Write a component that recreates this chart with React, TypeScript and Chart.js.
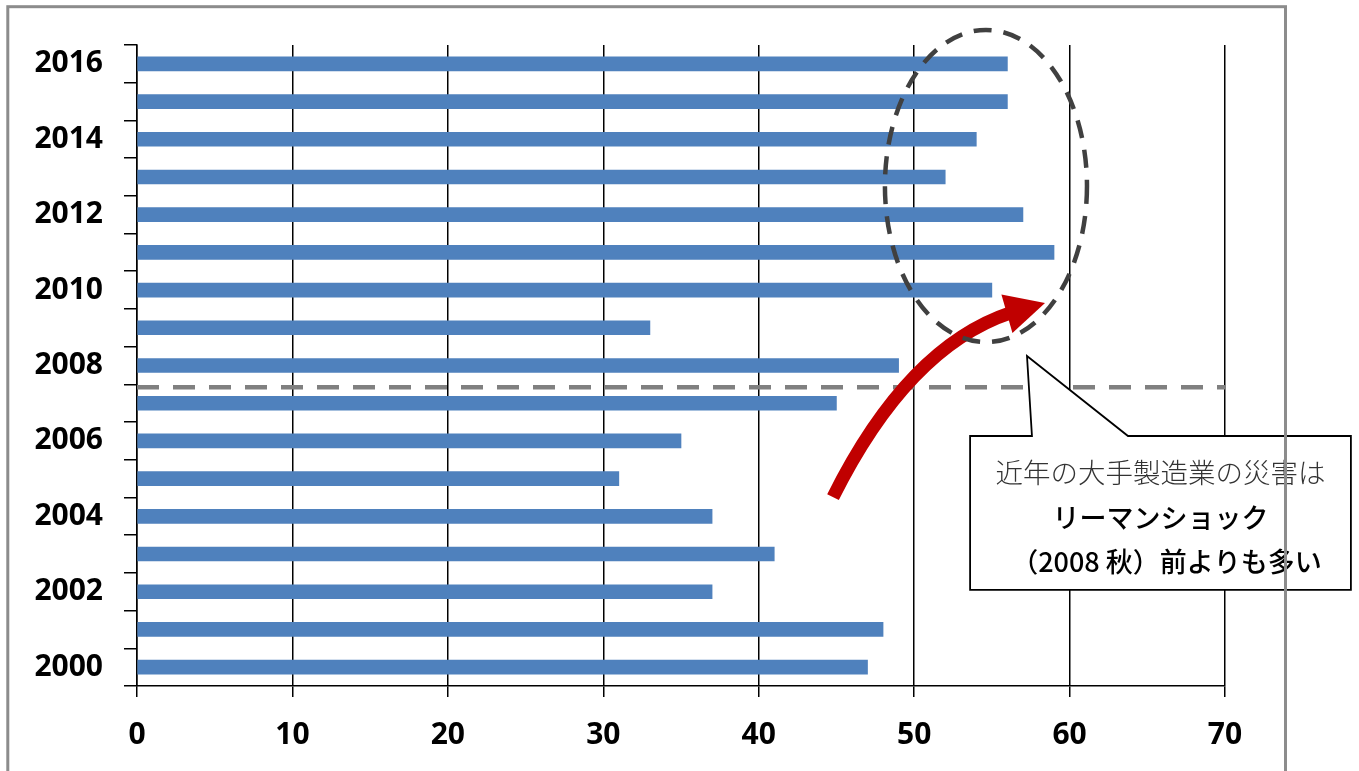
import React, { useEffect, useRef } from 'react';
import { Chart, registerables } from 'chart.js';

Chart.register(...registerables);

// ---- data ----
const years = ['2000', '2001', '2002', '2003', '2004', '2005', '2006', '2007', '2008', '2009', '2010', '2011', '2012', '2013', '2014', '2015', '2016'];
const values = [47, 48, 37, 41, 37, 31, 35, 45, 49, 33, 55, 59, 57, 52, 54, 56, 56];
const xTickValues = [0, 10, 20, 30, 40, 50, 60, 70];
const calloutLines = ['近年の大手製造業の災害は', 'リーマンショック', '（2008 秋）前よりも多い'];

// annotation anchors in data units (x value, y category index)
const separatorIndex = 7.42;
const ellipseAnchor = { x: 54.62, y: 12.76, rx: 6.5, ry: 4.14 };
const arrowAnchor = { start: [44.78, 4.51], ctrl: [49.6, 8.49], end: [55.97, 9.37], tip: [58.42, 9.66] };
const calloutAnchor = { left: 53.6, right: 78.1, top: 6.13, bottom: 2.05, tipX: 57.26, tipY: 8.25, baseL: 57.58, baseR: 63.76 };

const annotationPlugin = {
  id: 'annotations',
  beforeDraw(chart: any) {
    const ctx = chart.ctx;
    ctx.save();
    ctx.fillStyle = '#ffffff';
    ctx.fillRect(0, 0, chart.width, chart.height);
    ctx.restore();
  },
  afterDraw(chart: any) {
    const ctx: CanvasRenderingContext2D = chart.ctx;
    const xs = chart.scales.x;
    const ys = chart.scales.y;
    const px = (v: number) => xs.getPixelForValue(v);
    const py = (i: number) => ys.getPixelForValue(i);

    // separator dashed line
    ctx.save();
    ctx.strokeStyle = '#808080';
    ctx.lineWidth = 4.5;
    ctx.setLineDash([22, 14]);
    ctx.beginPath();
    ctx.moveTo(px(0), py(separatorIndex));
    ctx.lineTo(px(70), py(separatorIndex));
    ctx.stroke();
    ctx.restore();

    // red curved arrow
    const s = arrowAnchor;
    const sx = px(s.start[0]), sy = py(s.start[1]);
    const cx = px(s.ctrl[0]), cy = py(s.ctrl[1]);
    const ex = px(s.end[0]), ey = py(s.end[1]);
    const tx = px(s.tip[0]), ty = py(s.tip[1]);
    ctx.save();
    ctx.strokeStyle = '#C00000';
    ctx.fillStyle = '#C00000';
    ctx.lineWidth = 13;
    ctx.lineCap = 'butt';
    ctx.beginPath();
    ctx.moveTo(sx, sy);
    ctx.quadraticCurveTo(cx, cy, ex + (tx - ex) * 0.1, ey + (ty - ey) * 0.1);
    ctx.stroke();
    const dx = tx - ex, dy = ty - ey;
    const len = Math.hypot(dx, dy);
    const nx = -dy / len, ny = dx / len;
    const hw = 20;
    ctx.beginPath();
    ctx.moveTo(tx, ty);
    ctx.lineTo(ex + nx * hw, ey + ny * hw);
    ctx.lineTo(ex - nx * hw, ey - ny * hw);
    ctx.closePath();
    ctx.fill();
    ctx.restore();

    // dashed ellipse
    const e = ellipseAnchor;
    const ecx = px(e.x), ecy = py(e.y);
    const erx = Math.abs(px(e.x + e.rx) - ecx);
    const ery = Math.abs(py(e.y + e.ry) - ecy);
    ctx.save();
    ctx.strokeStyle = '#404040';
    ctx.lineWidth = 4.5;
    ctx.setLineDash([18, 12]);
    ctx.beginPath();
    ctx.ellipse(ecx, ecy, erx, ery, 0, 0, Math.PI * 2);
    ctx.stroke();
    ctx.restore();

    // callout
    const c = calloutAnchor;
    const L = px(c.left), R = px(c.right), T = py(c.top), B = py(c.bottom);
    ctx.save();
    ctx.beginPath();
    ctx.moveTo(L, T);
    ctx.lineTo(px(c.baseL), T);
    ctx.lineTo(px(c.tipX), py(c.tipY));
    ctx.lineTo(px(c.baseR), T);
    ctx.lineTo(R, T);
    ctx.lineTo(R, B);
    ctx.lineTo(L, B);
    ctx.closePath();
    ctx.fillStyle = '#ffffff';
    ctx.fill();
    ctx.strokeStyle = '#000000';
    ctx.lineWidth = 1.8;
    ctx.lineJoin = 'miter';
    ctx.stroke();
    ctx.textAlign = 'center';
    ctx.textBaseline = 'middle';
    const mid = (L + R) / 2;
    const h = B - T;
    ctx.font = "300 27.5px 'Noto Sans CJK JP'";
    ctx.fillStyle = '#333333';
    ctx.fillText(calloutLines[0], mid, T + h * 0.24);
    ctx.font = "500 27px 'Noto Sans CJK JP'";
    ctx.fillStyle = '#000000';
    ctx.fillText(calloutLines[1], mid, T + h * 0.53);
    ctx.fillText(calloutLines[2], mid + 6, T + h * 0.82);
    ctx.restore();

    // outer frame
    ctx.save();
    ctx.strokeStyle = '#8c8c8c';
    ctx.lineWidth = 3;
    ctx.strokeRect(7.8, 6.7, 1277.7, 820);
    ctx.restore();
  },
};

export default function App() {
  const canvasRef = useRef<HTMLCanvasElement>(null);

  useEffect(() => {
    if (!canvasRef.current) return;
    const tickFont = { family: "'Open Sans'", size: 30, weight: 'bold' as const };
    const chart = new Chart(canvasRef.current, {
      type: 'bar',
      data: {
        labels: years,
        datasets: [
          {
            data: values,
            backgroundColor: '#4F81BD',
            borderWidth: 0,
            barThickness: 14,
          },
        ],
      },
      options: {
        indexAxis: 'y',
        responsive: false,
        animation: false,
        devicePixelRatio: 1,
        layout: { padding: { left: 0, right: 134, top: 45, bottom: 0 } },
        plugins: { legend: { display: false }, tooltip: { enabled: false } },
        scales: {
          x: {
            type: 'linear',
            min: 0,
            max: 70,
            afterBuildTicks: (axis: any) => {
              axis.ticks = xTickValues.map((v) => ({ value: v }));
            },
            afterFit: (axis: any) => {
              axis.height = 85;
            },
            grid: { color: '#000000', lineWidth: 1.5, tickLength: 11, drawOnChartArea: true, drawTicks: true },
            border: { color: '#000000', width: 1.5 },
            ticks: { color: '#000000', font: tickFont, padding: 20, maxRotation: 0 },
          },
          y: {
            type: 'category',
            reverse: true,
            offset: true,
            afterFit: (axis: any) => {
              axis.width = 137;
            },
            grid: { offset: true, color: '#000000', lineWidth: 1.5, tickLength: 13, drawOnChartArea: false, drawTicks: true },
            border: { color: '#000000', width: 1.5 },
            ticks: {
              color: '#000000',
              font: tickFont,
              padding: 21,
              autoSkip: false,
              callback: (_v: any, i: number) => (Number(years[i]) % 2 === 0 ? years[i] : ''),
            },
          },
        },
      },
      plugins: [annotationPlugin],
    });
    return () => chart.destroy();
  }, []);

  return (
    <div style={{ position: 'absolute', left: 0, top: 0, width: 1359, height: 771, background: '#fff' }}>
      <canvas ref={canvasRef} width={1359} height={771} style={{ display: 'block' }} />
    </div>
  );
}
